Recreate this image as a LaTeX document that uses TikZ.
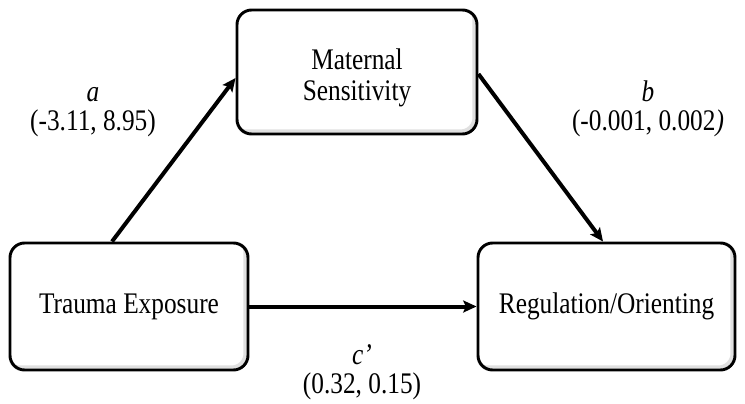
\documentclass[tikz,border=0pt]{standalone}
\usepackage{fontspec}
\setmainfont{Liberation Serif}
\usetikzlibrary{arrows.meta,backgrounds}

\newcommand{\tall}[1]{\scalebox{1}[1.18]{#1}}

\begin{document}
\begin{tikzpicture}[x=0.75pt, y=-0.75pt,
  varbox/.style={draw, line width=2.2pt, rounded corners=11pt, align=center,
    font=\fontsize{19}{23}\selectfont},
  effect/.style={line width=3pt, -{Stealth[length=10pt,width=9pt,inset=2pt]}},
  est/.style={align=center, font=\fontsize{19}{21.5}\selectfont}]

\useasboundingbox (0,0) rectangle (745,403);

\node[varbox, minimum width=178.5pt, minimum height=95.25pt] (trauma) at (129,306.5) {\tall{Trauma Exposure}};
\node[varbox, minimum width=180pt, minimum height=93pt] (maternal) at (357,72) {\rule{0pt}{24.5pt}\tall{Maternal}\\\tall{Sensitivity}};
\node[varbox, minimum width=192.75pt, minimum height=95.25pt] (regulation) at (606.5,306.5) {\tall{Regulation/Orienting}};

\begin{scope}[on background layer]
\foreach \n in {trauma,maternal,regulation} {
  \begin{scope}
    \clip[rounded corners=11pt] (\n.south west) rectangle (\n.north east);
    \draw[black!12, line width=4pt, rounded corners=11pt]
      ([shift={(-2.5pt,2.5pt)}]\n.south west) rectangle ([shift={(-2.5pt,2.5pt)}]\n.north east);
  \end{scope}
}
\end{scope}

\draw[effect] ([xshift=-12.75pt]trauma.north) -- ([yshift=-4.5pt]maternal.west);
\draw[effect] ([yshift=-1.5pt]maternal.east) -- ([xshift=-2.6pt]regulation.north);
\draw[effect] (trauma.east) -- (regulation.west);

\node[est] (apath) at (93,112) {\tall{\textit{a}}\\\tall{(-3.11, 8.95)}};
\node[est] (bpath) at (648,109) {\tall{\textit{b}}\\\tall{(-0.001, 0.002\textit{)}}};
\node[est] (cpath) at (362,372) {\tall{\textit{c’}}\\\tall{(0.32, 0.15)}};

\end{tikzpicture}
\end{document}
